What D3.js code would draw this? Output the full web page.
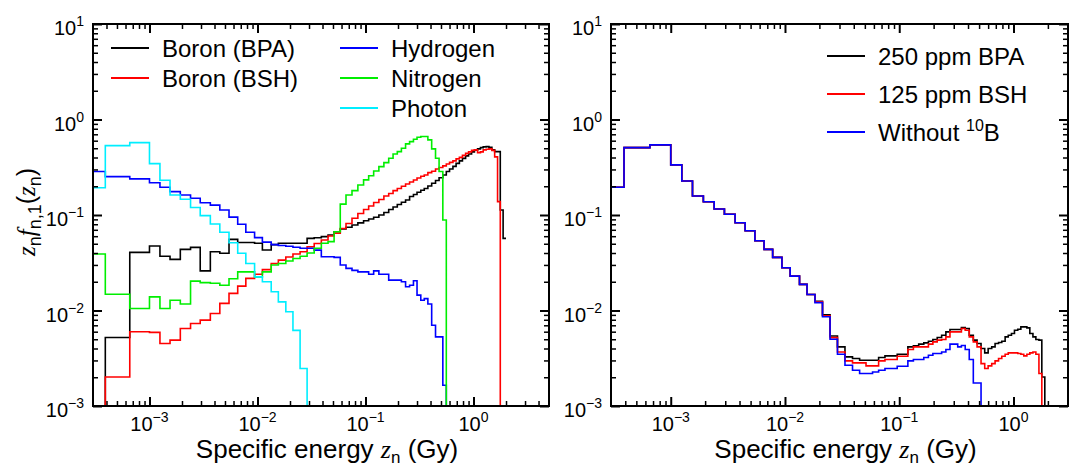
<!DOCTYPE html>
<html><head><meta charset="utf-8">
<script src="https://cdn.jsdelivr.net/npm/d3@7"></script>
<style>
body{margin:0;background:#fff}
svg{display:block}
text{font-family:"Liberation Sans",Arial,Helvetica,sans-serif;fill:#000}
</style>
</head><body>
<svg id="chart" width="1071" height="466"></svg>
<script>
// ---- bin edges (Gy), shared by both panels ----
const binEdges = [2.5e-4, 3.9e-4, 6.57e-4, 1.0e-3, 1.25e-3, 1.55e-3, 1.93e-3, 2.4e-3, 2.95e-3, 3.66e-3,
  4.48e-3, 5.45e-3, 6.56e-3, 7.8e-3, 9.4e-3, 1.11e-2, 1.34e-2, 1.56e-2, 1.83e-2, 2.13e-2,
  2.48e-2, 2.88e-2, 3.35e-2, 3.9e-2, 4.5e-2, 5.12e-2, 5.84e-2, 6.6e-2, 7.5e-2, 8.5e-2,
  9.6e-2, 0.107, 0.119, 0.133, 0.148, 0.164, 0.18, 0.197, 0.215, 0.235,
  0.256, 0.278, 0.30, 0.325, 0.35, 0.378, 0.41, 0.445, 0.48, 0.52,
  0.56, 0.60, 0.645, 0.69, 0.74, 0.79, 0.845, 0.90, 0.96, 1.02,
  1.09, 1.16, 1.23, 1.31, 1.39, 1.48, 1.57, 1.67, 1.77, 1.88, 2.0];

// ---- left panel series (z f(z) per bin; bins after the list are empty) ----
const boronBPA = [0, 0.00522, 0.0406, 0.0473, 0.037, 0.0343, 0.0437, 0.0458, 0.026, 0.0412,
  0.0397, 0.0556, 0.0516, 0.0516, 0.0506, 0.043, 0.049, 0.0506, 0.0506, 0.0506,
  0.0506, 0.0569, 0.0577, 0.0594, 0.0617, 0.0668, 0.0713, 0.0743, 0.0785, 0.0828,
  0.0869, 0.0908, 0.0946, 0.100, 0.1062, 0.1142, 0.1213, 0.1288, 0.1359, 0.1437,
  0.1563, 0.164, 0.173, 0.1816, 0.1897, 0.2014, 0.215, 0.230, 0.2455, 0.2627,
  0.2858, 0.3037, 0.3226, 0.3468, 0.3684, 0.3915, 0.4157, 0.436, 0.4577, 0.477,
  0.492, 0.508, 0.517, 0.520, 0.511, 0.481, 0.461, 0.461, 0.113, 0.0569];
const boronBSH = [0, 0.00201, 0.0060, 0.0059, 0.00451, 0.00489, 0.00648, 0.00732, 0.00792, 0.0093,
  0.01186, 0.0151, 0.018, 0.0217, 0.024, 0.0268, 0.0311, 0.0337, 0.0363, 0.039,
  0.0412, 0.0465, 0.0503, 0.0547, 0.0602, 0.0643, 0.0722, 0.0815, 0.0923, 0.1037,
  0.1142, 0.1243, 0.1352, 0.1454, 0.1582, 0.168, 0.180, 0.1897, 0.200, 0.2114,
  0.2218, 0.2328, 0.2443, 0.2545, 0.2627, 0.2777, 0.2872, 0.3037, 0.3148, 0.3265,
  0.3426, 0.3553, 0.3684, 0.3867, 0.401, 0.4207, 0.4416, 0.4577, 0.4749, 0.4806,
  0.450, 0.4577, 0.4806, 0.4887, 0.492, 0.475, 0.406, 0.138, 0, 0];
const hydrogen = [0.285, 0.252, 0.239, 0.218, 0.195, 0.1755, 0.162, 0.150, 0.1346, 0.127,
  0.113, 0.095, 0.080, 0.066, 0.058, 0.052, 0.049, 0.048, 0.047, 0.046,
  0.0448, 0.0448, 0.0429, 0.0365, 0.0365, 0.036, 0.0299, 0.0276, 0.0263, 0.0254,
  0.0254, 0.024, 0.026, 0.024, 0.024, 0.0208, 0.0208, 0.0208, 0.020, 0.0177,
  0.0184, 0.0205, 0.0145, 0.0128, 0.0133, 0.0117, 0.0070, 0.0053, 0.0053, 0.00165, 0];
const nitrogen = [0.039, 0.0148, 0.0105, 0.0139, 0.0105, 0.0128, 0.0117, 0.0203, 0.0196, 0.0193,
  0.0184, 0.0215, 0.0254, 0.0254, 0.0225, 0.0254, 0.0299, 0.031, 0.033, 0.035,
  0.037, 0.040, 0.0448, 0.0506, 0.0526, 0.0667, 0.130, 0.162, 0.180, 0.206,
  0.233, 0.258, 0.289, 0.321, 0.3535, 0.393, 0.436, 0.461, 0.50, 0.555,
  0.587, 0.622, 0.653, 0.663, 0.663, 0.612, 0.492, 0.393, 0.285, 0.0886, 0];
const photon = [0.193, 0.533, 0.573, 0.345, 0.231, 0.162, 0.146, 0.120, 0.0985, 0.0805,
  0.066, 0.0512, 0.0397, 0.0311, 0.0225, 0.020, 0.0157, 0.0123, 0.0097, 0.0062, 0.00247, 0];

// ---- right panel series ----
const bpa250 = [0.195, 0.508, 0.542, 0.3345, 0.2273, 0.158, 0.1378, 0.1156, 0.1017, 0.083,
  0.0684, 0.0538, 0.0437, 0.036, 0.028, 0.0229, 0.01876, 0.01473, 0.0125, 0.0090,
  0.0054, 0.00416, 0.00327, 0.00314, 0.00301, 0.00301, 0.00301, 0.00322, 0.00335, 0.00335,
  0.00348, 0.00348, 0.00416, 0.00426, 0.00444, 0.00458, 0.00477, 0.00497, 0.00522, 0.00551,
  0.00597, 0.00633, 0.00633, 0.00633, 0.00664, 0.00648, 0.00551, 0.00489, 0.00451, 0.0040,
  0.0036, 0.0040, 0.00416, 0.00451, 0.00462, 0.00477, 0.00529, 0.00551, 0.00574, 0.00622,
  0.00637, 0.00674, 0.00674, 0.00658, 0.00574, 0.00529, 0.00497, 0.00489, 0.00201, 0];
const bsh125 = [0.195, 0.508, 0.542, 0.3345, 0.2273, 0.158, 0.1378, 0.1156, 0.1017, 0.083,
  0.0684, 0.0538, 0.0437, 0.036, 0.028, 0.0229, 0.01876, 0.01473, 0.0123, 0.0088,
  0.0052, 0.00368, 0.00297, 0.00283, 0.00283, 0.00263, 0.00263, 0.00297, 0.00307, 0.00307,
  0.00332, 0.00332, 0.0039, 0.00416, 0.00416, 0.00416, 0.00444, 0.00469, 0.00489, 0.00497,
  0.00529, 0.00597, 0.00597, 0.00597, 0.00648, 0.00622, 0.00529, 0.00469, 0.00416, 0.00278,
  0.00247, 0.00263, 0.00278, 0.00297, 0.00314, 0.00332, 0.00348, 0.0036, 0.0036, 0.0036,
  0.00354, 0.00348, 0.00335, 0.00348, 0.0036, 0.00368, 0.00348, 0.00219, 0, 0];
const withoutB10 = [0.195, 0.508, 0.542, 0.3345, 0.2273, 0.158, 0.1378, 0.1156, 0.1017, 0.083,
  0.0684, 0.0538, 0.0437, 0.036, 0.028, 0.0229, 0.01876, 0.01473, 0.0121, 0.0086,
  0.0050, 0.00348, 0.00267, 0.00237, 0.00219, 0.00219, 0.00227, 0.00237, 0.00247, 0.00247,
  0.00261, 0.00261, 0.00297, 0.00307, 0.00307, 0.00322, 0.0034, 0.00354, 0.00354, 0.00368,
  0.0039, 0.00444, 0.00444, 0.00416, 0.0043, 0.0039, 0.00307, 0.00174, 0.00174, 0];

// ---- tick values / labels ----
const yMajorTicks = [1e-3, 1e-2, 1e-1, 1, 10];
const xMajorTicks = [1e-3, 1e-2, 1e-1, 1];
const minorMultipliers = [2, 3, 4, 5, 6, 7, 8, 9];

const leftLegend1 = ["Boron (BPA)", "Boron (BSH)"];
const leftLegend2 = ["Hydrogen", "Nitrogen", "Photon"];
const rightLegend = ["250 ppm BPA", "125 ppm BSH", "Without "];

const svg = d3.select("#chart");
const Y0 = 24, Y1 = 406;
const FLOOR = 1e-6;
const serif = "Liberation Serif, Times New Roman, serif";

function minorTicks(domain) {
  const out = [];
  for (let k = -5; k <= 1; k++) for (const m of minorMultipliers) {
    const v = m * Math.pow(10, k);
    if (v > domain[0] * 1.0001 && v < domain[1] * 0.9999) out.push(v);
  }
  return out;
}

function expStr(d) { const e = Math.round(Math.log10(d)); return e < 0 ? "\u2212" + (-e) : "" + e; }

function drawPanel(p) {
  const g = svg.append("g");
  const x = d3.scaleLog().domain(p.xDomain).range([p.x0, p.x1]);
  const y = d3.scaleLog().domain([1e-3, 10]).range([Y1, Y0]);
  const clipId = "clip" + p.id;
  svg.append("clipPath").attr("id", clipId).append("rect")
    .attr("x", p.x0).attr("y", Y0).attr("width", p.x1 - p.x0).attr("height", Y1 - Y0);

  const step = vals => {
    let d = "";
    for (let i = 0; i < binEdges.length - 1; i++) {
      const v = vals[i] ?? 0;
      const yy = y(v > 0 ? v : FLOOR);
      const xa = x(binEdges[i]), xb = x(binEdges[i + 1]);
      d += (i === 0 ? `M${xa},${yy}` : `V${yy}`) + `H${xb}`;
    }
    return d;
  };
  const sg = g.append("g").attr("clip-path", `url(#${clipId})`);
  p.series.forEach(s => {
    sg.append("path").attr("d", step(s.values)).attr("fill", "none")
      .attr("stroke", s.color).attr("stroke-width", 1.6).attr("stroke-linejoin", "miter");
  });

  // ticks (inward) on all four sides
  const mins = minorTicks(p.xDomain), ymins = minorTicks([1e-3, 10]);
  const axes = [
    [d3.axisBottom(x), `translate(0,${Y1})`, xMajorTicks, mins],
    [d3.axisTop(x), `translate(0,${Y0})`, xMajorTicks, mins],
    [d3.axisLeft(y), `translate(${p.x0},0)`, yMajorTicks, ymins],
    [d3.axisRight(y), `translate(${p.x1},0)`, yMajorTicks, ymins]
  ];
  axes.forEach(([ax, tr, maj, mn]) => {
    const a1 = g.append("g").attr("transform", tr)
      .call(ax.tickValues(maj).tickSize(-9).tickFormat(() => ""));
    a1.select(".domain").remove();
    a1.selectAll("line").attr("stroke-width", 2);
    const a2 = g.append("g").attr("transform", tr)
      .call(ax.tickValues(mn).tickSize(-5).tickFormat(() => ""));
    a2.select(".domain").remove();
    a2.selectAll("line").attr("stroke-width", 1.5);
  });

  g.append("rect").attr("x", p.x0).attr("y", Y0).attr("width", p.x1 - p.x0).attr("height", Y1 - Y0)
    .attr("fill", "none").attr("stroke", "#000").attr("stroke-width", 2);

  // tick labels
  g.selectAll(".xl").data(xMajorTicks).join("text").attr("class", "xl")
    .attr("x", d => x(d)).attr("y", 431).attr("text-anchor", "middle").attr("font-size", 20)
    .each(function (d) {
      const t = d3.select(this);
      t.append("tspan").text("10");
      t.append("tspan").attr("dy", -9).attr("font-size", 14).text(expStr(d));
    });
  g.selectAll(".yl").data(yMajorTicks).join("text").attr("class", "yl")
    .attr("x", p.x0 - 9).attr("y", d => y(d) + 11).attr("text-anchor", "end").attr("font-size", 20)
    .each(function (d) {
      const t = d3.select(this);
      t.append("tspan").text("10");
      t.append("tspan").attr("dy", -9).attr("font-size", 14).text(expStr(d));
    });

  // x title
  const xt = g.append("text").attr("x", (p.x0 + p.x1) / 2 + 6).attr("y", 458)
    .attr("text-anchor", "middle").attr("font-size", 26);
  xt.append("tspan").text("Specific energy ");
  xt.append("tspan").attr("font-family", serif).attr("font-style", "italic").text("z");
  xt.append("tspan").attr("font-size", 17).attr("dy", 5).text("n");
  xt.append("tspan").attr("dy", -5).text(" (Gy)");

  // legend
  p.legend.forEach(L => {
    L.items.forEach((it, i) => {
      const yy = L.y + i * L.dy;
      g.append("line").attr("x1", L.x).attr("x2", L.x + 38).attr("y1", yy).attr("y2", yy)
        .attr("stroke", it.color).attr("stroke-width", 2);
      const t = g.append("text").attr("x", L.x + 51).attr("y", yy + 8.5).attr("font-size", 24).text(it.label);
      if (it.sup) {
        t.append("tspan").attr("dy", -10).attr("font-size", 16).text(it.sup);
        t.append("tspan").attr("dy", 10).text(it.after);
      }
    });
  });
}

drawPanel({
  id: "L", x0: 93, x1: 549, xDomain: [3e-4, 5],
  series: [
    { values: boronBPA, color: "#000000" },
    { values: boronBSH, color: "#ff0000" },
    { values: hydrogen, color: "#0000ff" },
    { values: nitrogen, color: "#00ee00" },
    { values: photon, color: "#00eeff" }
  ],
  legend: [
    { x: 111, y: 48, dy: 30, items: [
      { label: leftLegend1[0], color: "#000000" }, { label: leftLegend1[1], color: "#ff0000" }] },
    { x: 340, y: 48, dy: 30, items: [
      { label: leftLegend2[0], color: "#0000ff" }, { label: leftLegend2[1], color: "#00ee00" },
      { label: leftLegend2[2], color: "#00eeff" }] }
  ]
});
drawPanel({
  id: "R", x0: 611, x1: 1068, xDomain: [3e-4, 3],
  series: [
    { values: bpa250, color: "#000000" },
    { values: bsh125, color: "#ff0000" },
    { values: withoutB10, color: "#0000ff" }
  ],
  legend: [
    { x: 827, y: 56, dy: 38, items: [
      { label: rightLegend[0], color: "#000000" }, { label: rightLegend[1], color: "#ff0000" },
      { label: rightLegend[2], color: "#0000ff", sup: "10", after: "B" }] }
  ]
});

// y axis title (left panel only)
const yt = svg.append("text").attr("transform", "translate(35,212) rotate(-90)")
  .attr("text-anchor", "middle").attr("font-size", 25);
yt.append("tspan").attr("font-family", serif).attr("font-style", "italic").text("z");
yt.append("tspan").attr("font-size", 18).attr("dy", 6).text("n");
yt.append("tspan").attr("dy", -6).attr("font-family", serif).attr("font-style", "italic").text("f");
yt.append("tspan").attr("font-size", 18).attr("dy", 6).text("n,1");
yt.append("tspan").attr("dy", -6).text("(");
yt.append("tspan").attr("font-family", serif).attr("font-style", "italic").text("z");
yt.append("tspan").attr("font-size", 18).attr("dy", 6).text("n");
yt.append("tspan").attr("dy", -6).text(")");
</script>
</body></html>
